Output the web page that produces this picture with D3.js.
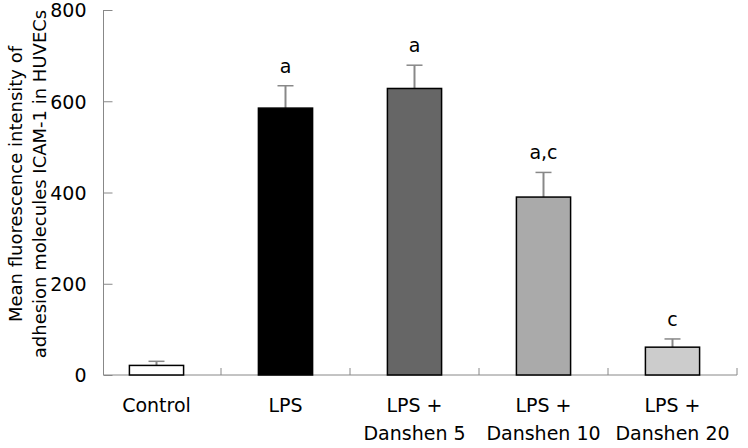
<!DOCTYPE html>
<html>
<head>
<meta charset="utf-8">
<script src="https://cdn.jsdelivr.net/npm/d3@7"></script>
<style>
  body { margin: 0; background: #fff; }
  text { font-family: "DejaVu Sans", Verdana, sans-serif; fill: #000; }
</style>
</head>
<body>
<div id="chart"></div>
<script>
const groups = ["Control", "LPS", "LPS + Danshen 5", "LPS + Danshen 10", "LPS + Danshen 20"];
const means = [21, 585, 628, 390, 61];
const errors = [9, 49, 51, 54, 18];
const marks = ["", "a", "a", "a,c", "c"];
const fills = ["#ffffff", "#000000", "#666666", "#aaaaaa", "#cccccc"];
const yTicks = [0, 200, 400, 600, 800];

const width = 748, height = 448;
const axisColor = "#888";

const svg = d3.select("#chart").append("svg")
    .attr("width", width)
    .attr("height", height);

const y = d3.scaleLinear().domain([0, 800]).range([375, 10]);
const x = d3.scaleBand().domain(groups).range([92, 737]).paddingInner(0.58).paddingOuter(0.29);
const axisLeft = 103.5;

// y axis
const yAxis = svg.append("g")
    .attr("transform", `translate(${axisLeft},0)`)
    .call(d3.axisLeft(y).tickValues(yTicks).tickSize(-9).tickPadding(17));
yAxis.select(".domain").attr("stroke", axisColor).attr("d", `M0,${y(800)}V${y(0)}`);
yAxis.selectAll(".tick line").attr("stroke", axisColor);
yAxis.selectAll(".tick text").attr("font-size", 19).attr("dy", "0.36em");

// x axis line + inward ticks at band boundaries
svg.append("line")
    .attr("x1", axisLeft).attr("x2", 737)
    .attr("y1", y(0)).attr("y2", y(0))
    .attr("stroke", axisColor);
const step = x.step();
svg.selectAll(".xtick").data(groups).enter().append("line")
    .attr("x1", d => x(d) + x.bandwidth() / 2 + step / 2)
    .attr("x2", d => x(d) + x.bandwidth() / 2 + step / 2)
    .attr("y1", y(0)).attr("y2", y(0) - 7)
    .attr("stroke", axisColor);

// error bars (drawn first, bar covers lower part)
const cap = 8;
svg.selectAll(".err").data(groups).enter().append("line")
    .attr("x1", d => x(d) + x.bandwidth() / 2)
    .attr("x2", d => x(d) + x.bandwidth() / 2)
    .attr("y1", (d, i) => y(means[i]))
    .attr("y2", (d, i) => y(means[i] + errors[i]))
    .attr("stroke", axisColor).attr("stroke-width", 2);
svg.selectAll(".cap").data(groups).enter().append("line")
    .attr("x1", d => x(d) + x.bandwidth() / 2 - cap)
    .attr("x2", d => x(d) + x.bandwidth() / 2 + cap)
    .attr("y1", (d, i) => y(means[i] + errors[i]))
    .attr("y2", (d, i) => y(means[i] + errors[i]))
    .attr("stroke", axisColor).attr("stroke-width", 1.5);

// bars
svg.selectAll(".bar").data(groups).enter().append("rect")
    .attr("x", d => x(d))
    .attr("y", (d, i) => y(means[i]))
    .attr("width", x.bandwidth())
    .attr("height", (d, i) => y(0) - y(means[i]))
    .attr("fill", (d, i) => fills[i])
    .attr("stroke", "#000")
    .attr("stroke-width", 1.5);

// significance letters
svg.selectAll(".mark").data(groups).enter().append("text")
    .attr("x", d => x(d) + x.bandwidth() / 2)
    .attr("y", (d, i) => y(means[i] + errors[i]) - 13)
    .attr("text-anchor", "middle")
    .attr("font-size", 19)
    .text((d, i) => marks[i]);

// x labels
const xl = svg.selectAll(".xlab").data(groups).enter().append("text")
    .attr("text-anchor", "middle")
    .attr("font-size", 19);
xl.each(function(d) {
    const cx = x(d) + x.bandwidth() / 2;
    const parts = d.indexOf("Danshen") >= 0 ? ["LPS +", d.replace("LPS + ", "")] : [d];
    const t = d3.select(this);
    parts.forEach((p, j) => {
        t.append("tspan").attr("x", cx).attr("y", 412 + j * 28).text(p);
    });
});

// y title
const title = svg.append("text")
    .attr("transform", "translate(0,184) rotate(-90)")
    .attr("text-anchor", "middle")
    .attr("font-size", 18);
title.append("tspan").attr("x", 0).attr("y", 22).text("Mean fluorescence intensity of");
title.append("tspan").attr("x", 0).attr("y", 46).text("adhesion molecules ICAM-1 in HUVECs");
</script>
</body>
</html>
